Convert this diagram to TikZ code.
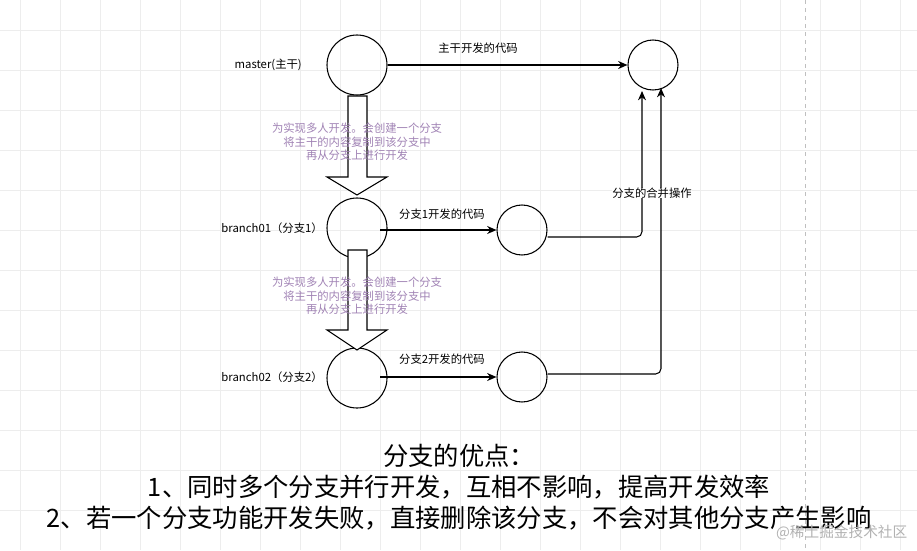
\documentclass[tikz,border=0pt]{standalone}
\usepackage{fontspec}
\setmainfont{Noto Sans CJK SC}
\usetikzlibrary{arrows.meta}
\begin{document}
\begin{tikzpicture}[x=0.75pt,y=-0.75pt,
  circ/.style={draw,circle,line width=0.8pt,inner sep=0pt},
  lbl/.style={font=\fontsize{8.5pt}{10pt}\selectfont,inner sep=0pt},
  conn/.style={line width=0.8pt,-{Stealth[length=7pt,width=6pt]},rounded corners=4pt},
  fat/.style={draw,line width=0.8pt,fill=white},
  note/.style={font=\fontsize{8.5pt}{10pt}\selectfont,text={rgb,255:red,160;green,130;blue,180},align=center,inner sep=0pt}]
\useasboundingbox (0,0) rectangle (917,550);
\foreach \x in {20,60,...,900} \draw[black!7,line width=0.6pt] (\x,0) -- (\x,550);
\foreach \y in {30,70,...,540} \draw[black!7,line width=0.6pt] (0,\y) -- (917,\y);
\draw[black!25,dashed] (805,0) -- (805,550);
\node[circ,minimum size=45pt] (m) at (357,65) {};
\node[circ,minimum size=37.5pt] (t) at (653,65) {};
\node[circ,minimum size=45pt] (b1) at (357,228) {};
\node[circ,minimum size=37.5pt] (c1) at (522,230) {};
\node[circ,minimum size=45pt] (b2) at (357,378) {};
\node[circ,minimum size=37.5pt] (c2) at (522,377) {};
\node[lbl,anchor=east] (lm) at (302,65) {master(主干)};
\node[lbl,anchor=east] (lb1) at (323,228) {branch01（分支1）};
\node[lbl,anchor=east] (lb2) at (323,377) {branch02（分支2）};
\draw[fat] (348,96) -- (367,96) -- (367,177) -- (387,177) -- (357,195) -- (327,177) -- (348,177) -- cycle;
\draw[fat] (348,250) -- (367,250) -- (367,330) -- (387,330) -- (357,350) -- (327,330) -- (348,330) -- cycle;
\node[note] (n1) at (357,142) {为实现多人开发。会创建一个分支\\将主干的内容复制到该分支中\\再从分支上进行开发};
\node[note] (n2) at (357,296) {为实现多人开发。会创建一个分支\\将主干的内容复制到该分支中\\再从分支上进行开发};
\draw[conn] (m.east) -- (t.west);
\node[lbl] (l0) at (478,48) {主干开发的代码};
\coordinate (s1) at (380,230);
\coordinate (s2) at (380,377);
\draw[conn] (s1) -- (c1.west);
\draw[conn] (s2) -- (c2.west);
\node[lbl] (l1) at (442,214) {分支1开发的代码};
\node[lbl] (l2) at (442,359) {分支2开发的代码};
\coordinate (k1) at (642,237);
\coordinate (k2) at (661,374);
\draw[conn] (c1.east |- k1) -- (k1) -- (642,91);
\draw[conn] (c2.east |- k2) -- (k2) -- (661,88);
\node[lbl,fill=white] (lm2) at (652,193) {分支的合并操作};
\node[font=\fontsize{19pt}{23pt}\selectfont,align=center] (sum) at (459,487) {分支的优点：\\1、同时多个分支并行开发，互相不影响，提高开发效率\\2、若一个分支功能开发失败，直接删除该分支，不会对其他分支产生影响};
\node[font=\fontsize{11pt}{12pt}\selectfont,text=black!30,anchor=east] (wm) at (912,533) {@稀土掘金技术社区};
\end{tikzpicture}
\end{document}
